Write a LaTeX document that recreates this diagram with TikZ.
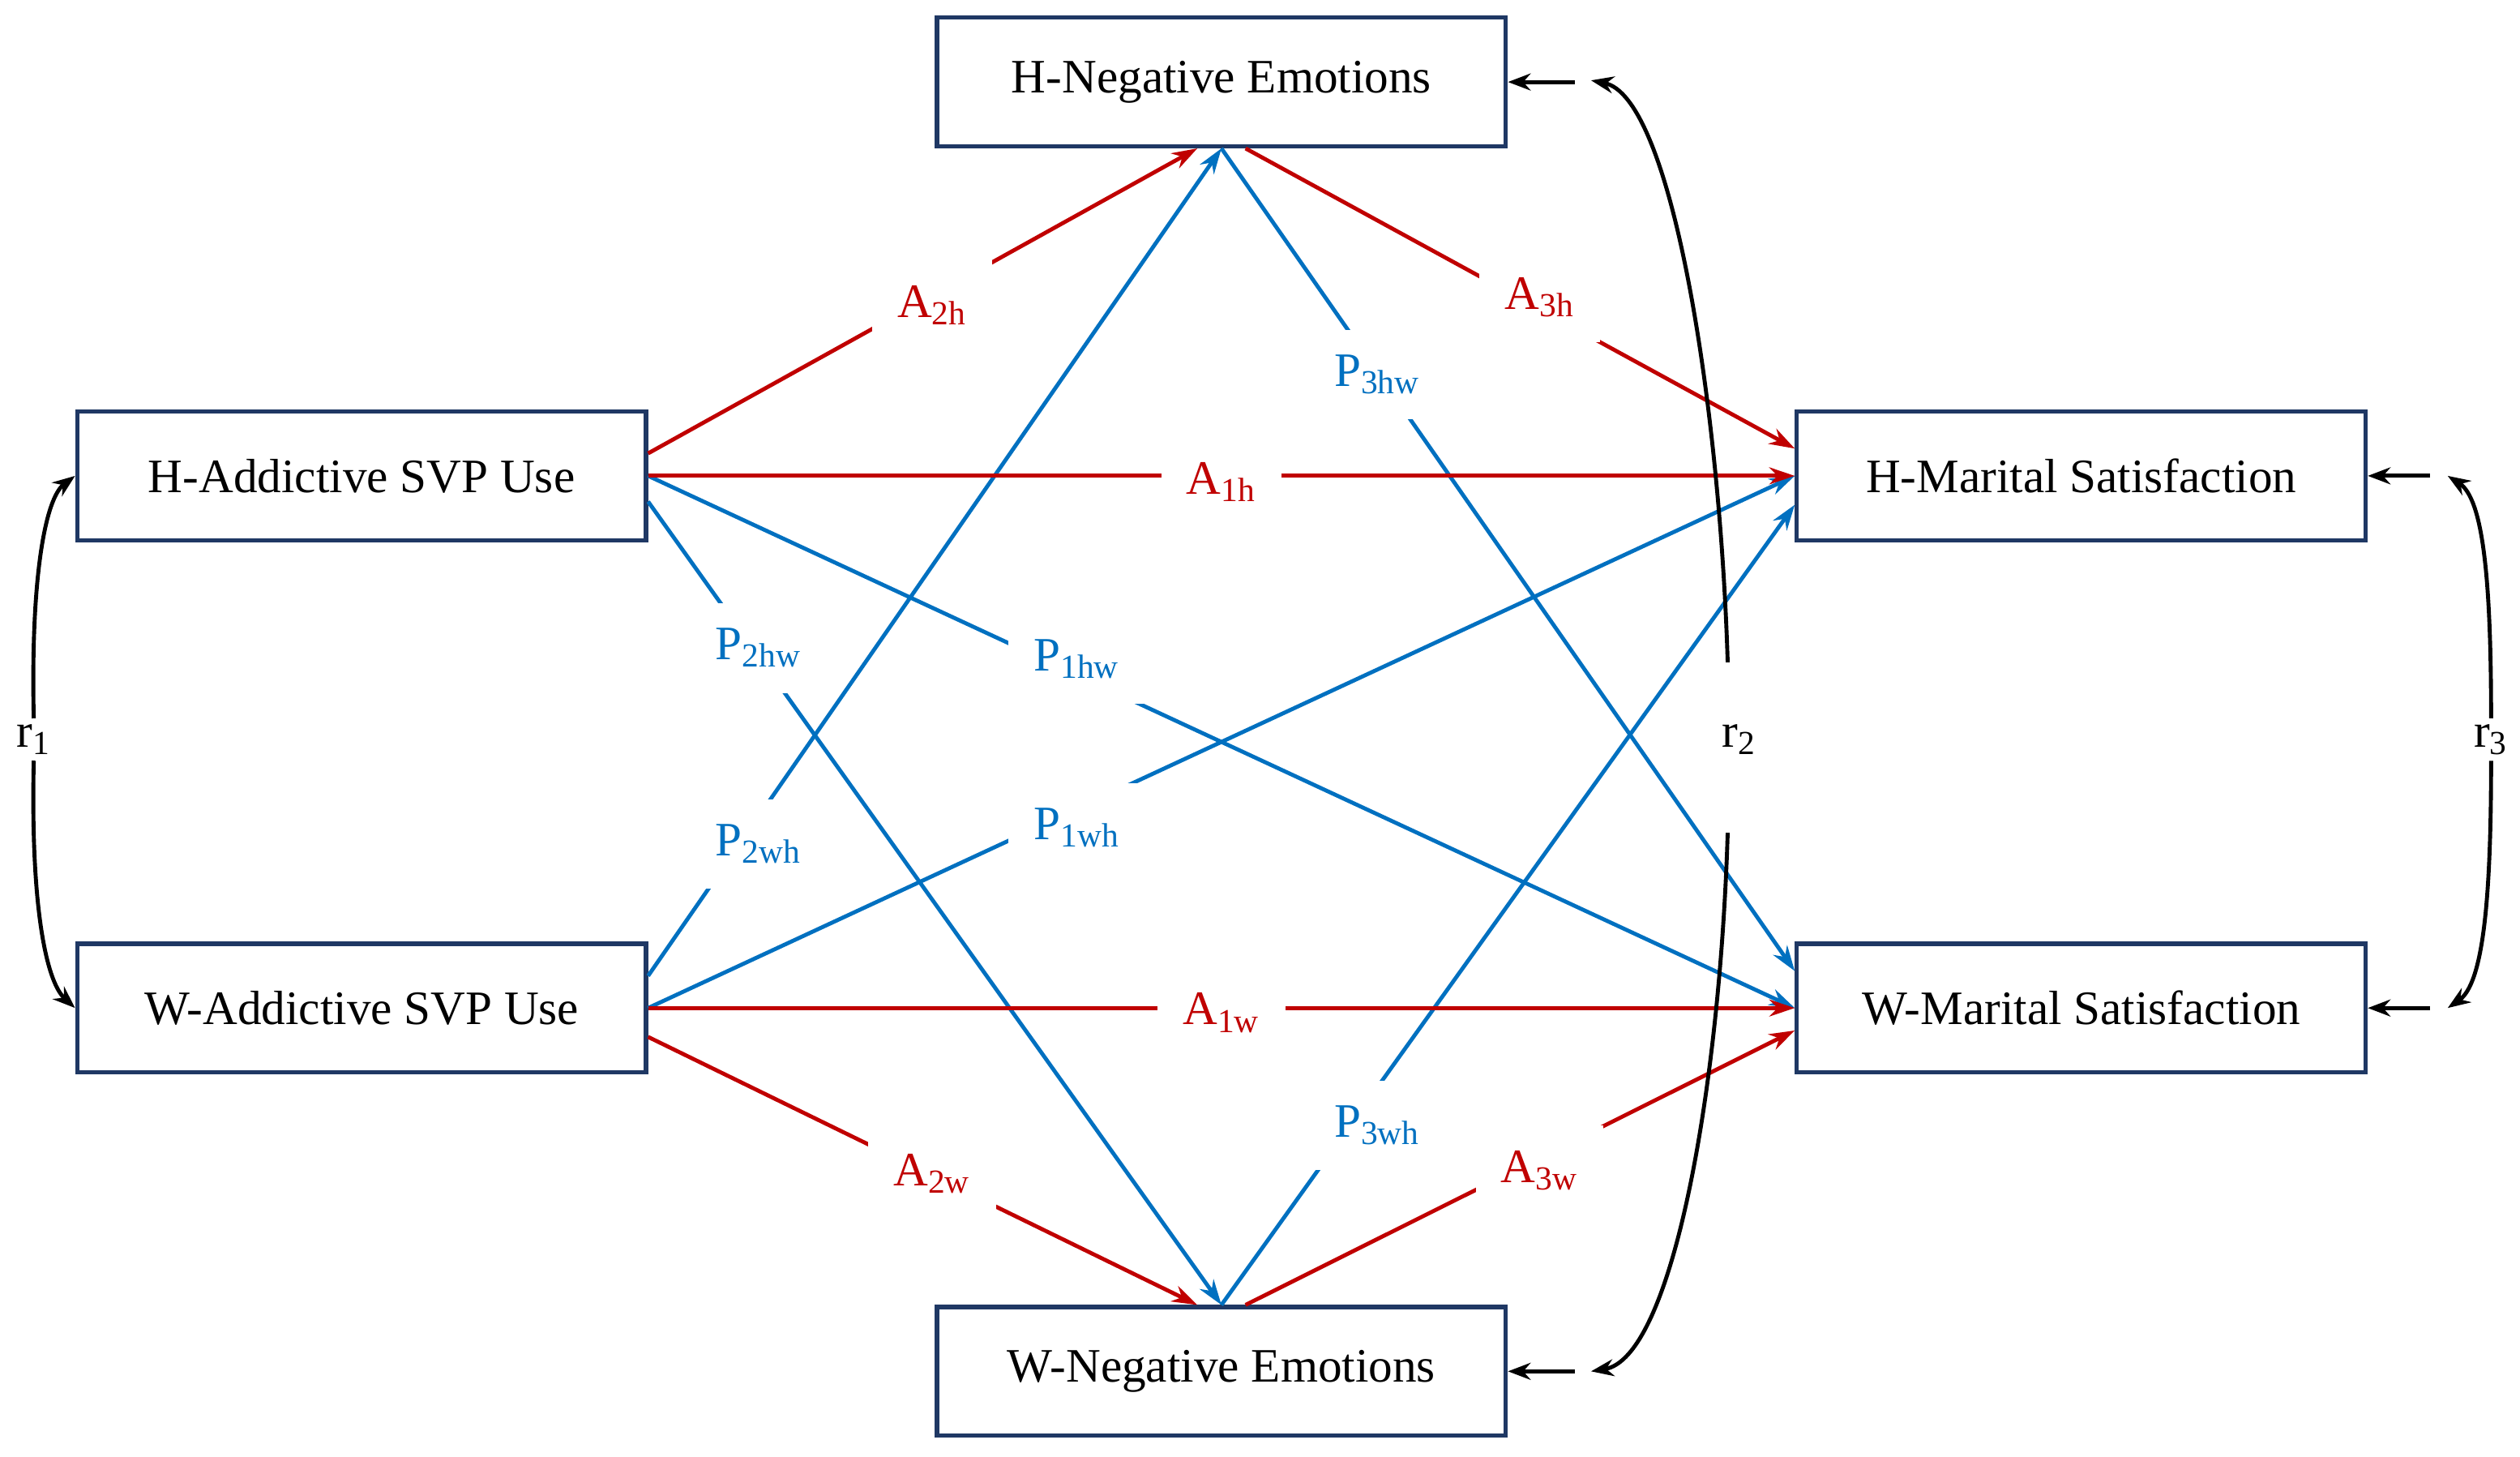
\documentclass[tikz,border=0pt]{standalone}
\usepackage{fontspec}
\setmainfont{Liberation Serif}
\usetikzlibrary{arrows.meta}
\definecolor{rd}{RGB}{192,0,0}
\definecolor{bl}{RGB}{0,112,192}
\definecolor{nv}{RGB}{31,56,100}
\begin{document}
\begin{tikzpicture}[x=0.02cm,y=-0.02cm,
 box/.style={draw=nv,line width=1.5pt,minimum width=7.08cm,minimum height=1.6cm,font=\fontsize{17}{20}\selectfont,inner sep=0pt},
 ra/.style={draw=rd,line width=1.4pt,-{Stealth[length=9pt,width=6pt]}},
 ba/.style={draw=bl,line width=1.4pt,-{Stealth[length=9pt,width=6pt]}},
 ka/.style={draw=black,line width=1.4pt,-{Stealth[length=8pt,width=6pt]}},
 lr/.style={fill=white,text=rd,font=\fontsize{17}{20}\selectfont,inner sep=9pt},
 lb/.style={fill=white,text=bl,font=\fontsize{17}{20}\selectfont,inner sep=9pt},
 lk/.style={font=\fontsize{17}{20}\selectfont,inner sep=2pt}]
\useasboundingbox (0,0) rectangle (1568,906);
\node[box] (hn) at (760,51) {H-Negative Emotions};
\node[box] (ha) at (225,296) {H-Addictive SVP Use};
\node[box] (wa) at (225,627) {W-Addictive SVP Use};
\node[box] (hm) at (1295,296) {H-Marital Satisfaction};
\node[box] (wm) at (1295,627) {W-Marital Satisfaction};
\node[box] (wn) at (760,853) {W-Negative Emotions};
% blue
\draw[ba] (wa.east|-0,607) -- (hn.south);
\draw[ba] (wa.east) -- (hm.west);
\draw[ba] (ha.east|-0,312) -- (wn.north);
\draw[ba] (ha.east) -- (wm.west);
\draw[ba] (hn.south) -- (wm.west|-0,604);
\draw[ba] (wn.north) -- (hm.west|-0,314);
% red
\draw[ra] (ha.east|-0,282) -- (hn.south-|745,0);
\draw[ra] (ha.east) -- (hm.west);
\draw[ra] (hn.south-|775,0) -- (hm.west|-0,279);
\draw[ra] (wa.east) -- (wm.west);
\draw[ra] (wa.east|-0,645) -- (wn.north-|745,0);
\draw[ra] (wn.north-|775,0) -- (wm.west|-0,641);
% labels
\node[lr] (la2h) at (580,190) {A\textsubscript{2h}};
\node[lr] (la1h) at (760,300) {A\textsubscript{1h}};
\node[lr] (la3h) at (958,185) {A\textsubscript{3h}};
\node[lr] (la1w) at (760,630) {A\textsubscript{1w}};
\node[lr] (la2w) at (580,730) {A\textsubscript{2w}};
\node[lr] (la3w) at (958,728) {A\textsubscript{3w}};
\node[lb] (lp2wh) at (472,525) {P\textsubscript{2wh}};
\node[lb] (lp1wh) at (670,515) {P\textsubscript{1wh}};
\node[lb] (lp2hw) at (472,403) {P\textsubscript{2hw}};
\node[lb] (lp1hw) at (670,410) {P\textsubscript{1hw}};
\node[lb] (lp3hw) at (857,233) {P\textsubscript{3hw}};
\node[lb] (lp3wh) at (857,700) {P\textsubscript{3wh}};
% correlations
\node[lk] (r1) at (21,460) {r\textsubscript{1}};
\node[lk] (r2) at (1082,460) {r\textsubscript{2}};
\node[lk] (r3) at (1550,460) {r\textsubscript{3}};
\draw[ka] (r1.north) .. controls (19,360) and (28,310) .. (ha.west);
\draw[ka] (r1.south) .. controls (19,560) and (28,610) .. (wa.west);
\coordinate (h3) at (1523,296);\coordinate (w3) at (1523,627);
\draw[ka] (r3.north) .. controls (1550,360) and (1545,310) .. (h3);
\draw[ka] (r3.south) .. controls (1550,560) and (1545,612) .. (w3);
\draw[ka] (1512,296) -- (hm.east);
\draw[ka] (1512,627) -- (wm.east);
\coordinate (h2) at (990,50);\coordinate (w2) at (990,853);
\draw[ka] (1075,412) .. controls (1070,250) and (1040,60) .. (h2);
\draw[ka] (1075,518) .. controls (1070,680) and (1040,845) .. (w2);
\draw[ka] (980,51) -- (hn.east);
\draw[ka] (980,853) -- (wn.east);
\end{tikzpicture}
\end{document}
